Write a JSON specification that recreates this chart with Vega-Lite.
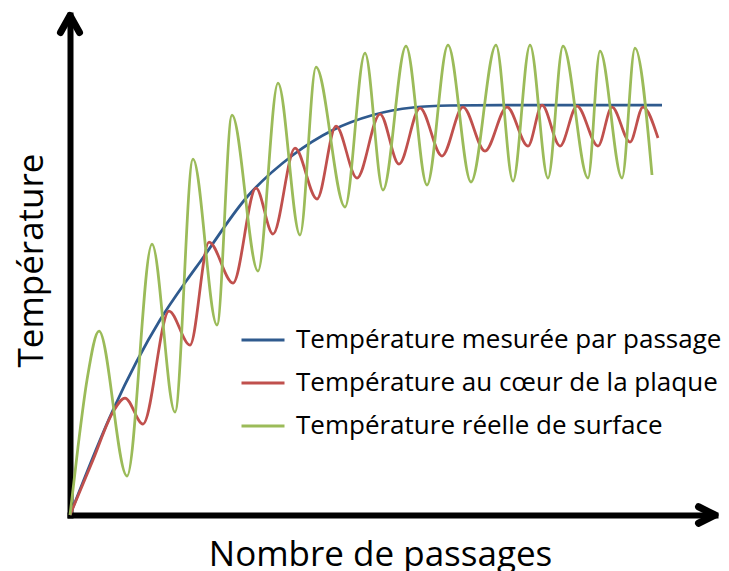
{
  "$schema": "https://vega.github.io/schema/vega-lite/v6.json",
  "width": 645,
  "height": 500,
  "autosize": {"type": "none"},
  "padding": {"left": 70, "top": 15, "right": 14, "bottom": 56},
  "background": "white",
  "config": {"view": {"stroke": null}, "font": "Open Sans"},
  "datasets": {
    "courbes": [
      {"serie": "Température mesurée par passage", "x": 0, "y": 0},
      {"serie": "Température mesurée par passage", "x": 43, "y": 105},
      {"serie": "Température mesurée par passage", "x": 90, "y": 195},
      {"serie": "Température mesurée par passage", "x": 117, "y": 235},
      {"serie": "Température mesurée par passage", "x": 130, "y": 253},
      {"serie": "Température mesurée par passage", "x": 177, "y": 318},
      {"serie": "Température mesurée par passage", "x": 223, "y": 360},
      {"serie": "Température mesurée par passage", "x": 263, "y": 385},
      {"serie": "Température mesurée par passage", "x": 303, "y": 400},
      {"serie": "Température mesurée par passage", "x": 343, "y": 407.5},
      {"serie": "Température mesurée par passage", "x": 380, "y": 409.5},
      {"serie": "Température mesurée par passage", "x": 430, "y": 410},
      {"serie": "Température mesurée par passage", "x": 592, "y": 410},
      {"serie": "Température au cœur de la plaque", "x": 0, "y": 0},
      {"serie": "Température au cœur de la plaque", "x": 23, "y": 55},
      {"serie": "Température au cœur de la plaque", "x": 43, "y": 103},
      {"serie": "Température au cœur de la plaque", "x": 55, "y": 117},
      {"serie": "Température au cœur de la plaque", "x": 73, "y": 91},
      {"serie": "Température au cœur de la plaque", "x": 99, "y": 204},
      {"serie": "Température au cœur de la plaque", "x": 120, "y": 170},
      {"serie": "Température au cœur de la plaque", "x": 139, "y": 273},
      {"serie": "Température au cœur de la plaque", "x": 163, "y": 232},
      {"serie": "Température au cœur de la plaque", "x": 186, "y": 327},
      {"serie": "Température au cœur de la plaque", "x": 203, "y": 281},
      {"serie": "Température au cœur de la plaque", "x": 225, "y": 367},
      {"serie": "Température au cœur de la plaque", "x": 247, "y": 316},
      {"serie": "Température au cœur de la plaque", "x": 266, "y": 389},
      {"serie": "Température au cœur de la plaque", "x": 287, "y": 337},
      {"serie": "Température au cœur de la plaque", "x": 310, "y": 401},
      {"serie": "Température au cœur de la plaque", "x": 329, "y": 351},
      {"serie": "Température au cœur de la plaque", "x": 350, "y": 407},
      {"serie": "Température au cœur de la plaque", "x": 372, "y": 359},
      {"serie": "Température au cœur de la plaque", "x": 393, "y": 408},
      {"serie": "Température au cœur de la plaque", "x": 415, "y": 364},
      {"serie": "Température au cœur de la plaque", "x": 437, "y": 408},
      {"serie": "Température au cœur de la plaque", "x": 458, "y": 369},
      {"serie": "Température au cœur de la plaque", "x": 472, "y": 410},
      {"serie": "Température au cœur de la plaque", "x": 490, "y": 369},
      {"serie": "Température au cœur de la plaque", "x": 507, "y": 409},
      {"serie": "Température au cœur de la plaque", "x": 528, "y": 369},
      {"serie": "Température au cœur de la plaque", "x": 542, "y": 408},
      {"serie": "Température au cœur de la plaque", "x": 560, "y": 373},
      {"serie": "Température au cœur de la plaque", "x": 573, "y": 408},
      {"serie": "Température au cœur de la plaque", "x": 588, "y": 377},
      {"serie": "Température réelle de surface", "x": 0, "y": 0},
      {"serie": "Température réelle de surface", "x": 8, "y": 68},
      {"serie": "Température réelle de surface", "x": 17, "y": 135},
      {"serie": "Température réelle de surface", "x": 29, "y": 184},
      {"serie": "Température réelle de surface", "x": 57, "y": 39},
      {"serie": "Température réelle de surface", "x": 82, "y": 271},
      {"serie": "Température réelle de surface", "x": 105, "y": 103},
      {"serie": "Température réelle de surface", "x": 123, "y": 356},
      {"serie": "Température réelle de surface", "x": 147, "y": 190},
      {"serie": "Température réelle de surface", "x": 162, "y": 400},
      {"serie": "Température réelle de surface", "x": 188, "y": 244},
      {"serie": "Température réelle de surface", "x": 208, "y": 432},
      {"serie": "Température réelle de surface", "x": 230, "y": 280},
      {"serie": "Température réelle de surface", "x": 246, "y": 448},
      {"serie": "Température réelle de surface", "x": 275, "y": 308},
      {"serie": "Température réelle de surface", "x": 295, "y": 462},
      {"serie": "Température réelle de surface", "x": 313, "y": 325},
      {"serie": "Température réelle de surface", "x": 336, "y": 469},
      {"serie": "Température réelle de surface", "x": 357, "y": 330},
      {"serie": "Température réelle de surface", "x": 378, "y": 470},
      {"serie": "Température réelle de surface", "x": 401, "y": 333},
      {"serie": "Température réelle de surface", "x": 426, "y": 470},
      {"serie": "Température réelle de surface", "x": 443, "y": 334},
      {"serie": "Température réelle de surface", "x": 460, "y": 470},
      {"serie": "Température réelle de surface", "x": 478, "y": 337},
      {"serie": "Température réelle de surface", "x": 493, "y": 469},
      {"serie": "Température réelle de surface", "x": 518, "y": 337},
      {"serie": "Température réelle de surface", "x": 530, "y": 464},
      {"serie": "Température réelle de surface", "x": 552, "y": 337},
      {"serie": "Température réelle de surface", "x": 565, "y": 467},
      {"serie": "Température réelle de surface", "x": 582, "y": 340}
    ]
  },
  "layer": [
    {
      "data": {"name": "courbes"},
      "mark": {"type": "line", "interpolate": "monotone", "strokeWidth": 2.75},
      "encoding": {
        "x": {
          "field": "x", "type": "quantitative",
          "scale": {"domain": [0, 645], "nice": false, "zero": false},
          "axis": {
            "domain": true, "domainColor": "black", "domainWidth": 6, "domainCap": "square",
            "ticks": false, "labels": false, "grid": false,
            "title": "Nombre de passages", "titleFont": "Open Sans", "titleFontSize": 35,
            "titleFontWeight": "normal", "titleColor": "black",
            "titleX": 310, "titleY": 50, "titleBaseline": "alphabetic", "titleAlign": "center"
          }
        },
        "y": {
          "field": "y", "type": "quantitative",
          "scale": {"domain": [0, 500], "nice": false, "zero": false},
          "axis": {
            "domain": true, "domainColor": "black", "domainWidth": 6, "domainCap": "square",
            "ticks": false, "labels": false, "grid": false,
            "title": "Température", "titleFont": "Open Sans", "titleFontSize": 35,
            "titleFontWeight": "normal", "titleColor": "black",
            "titleX": -28, "titleY": 245, "titleAngle": 270, "titleBaseline": "alphabetic", "titleAlign": "center"
          }
        },
        "color": {
          "field": "serie", "type": "nominal",
          "scale": {
            "domain": ["Température mesurée par passage", "Température au cœur de la plaque", "Température réelle de surface"],
            "range": ["#2F5A8E", "#C0504D", "#9BBB59"]
          },
          "legend": {
            "orient": "none", "legendX": 170, "legendY": 302, "title": null,
            "labelFont": "Open Sans", "labelFontSize": 26, "labelColor": "black", "labelLimit": 0,
            "symbolType": "stroke", "symbolSize": 1849, "symbolStrokeWidth": 3,
            "rowPadding": 7, "labelOffset": 10, "padding": 0
          }
        }
      }
    },
    {
      "data": {"values": [{"axe": "x"}]},
      "mark": {"type": "point", "shape": "M-1,-0.5L0,0L-1,0.5", "size": 1089, "filled": false, "color": "black", "opacity": 1, "strokeWidth": 7, "strokeCap": "round", "strokeJoin": "round", "clip": false},
      "encoding": {"x": {"datum": 645, "type": "quantitative"}, "y": {"datum": 0, "type": "quantitative"}}
    },
    {
      "data": {"values": [{"axe": "y"}]},
      "mark": {"type": "point", "shape": "M-0.56,1L0,0L0.56,1", "size": 1156, "filled": false, "color": "black", "opacity": 1, "strokeWidth": 7, "strokeCap": "round", "strokeJoin": "round", "clip": false},
      "encoding": {"x": {"datum": 0, "type": "quantitative"}, "y": {"datum": 499.5, "type": "quantitative"}}
    }
  ]
}
